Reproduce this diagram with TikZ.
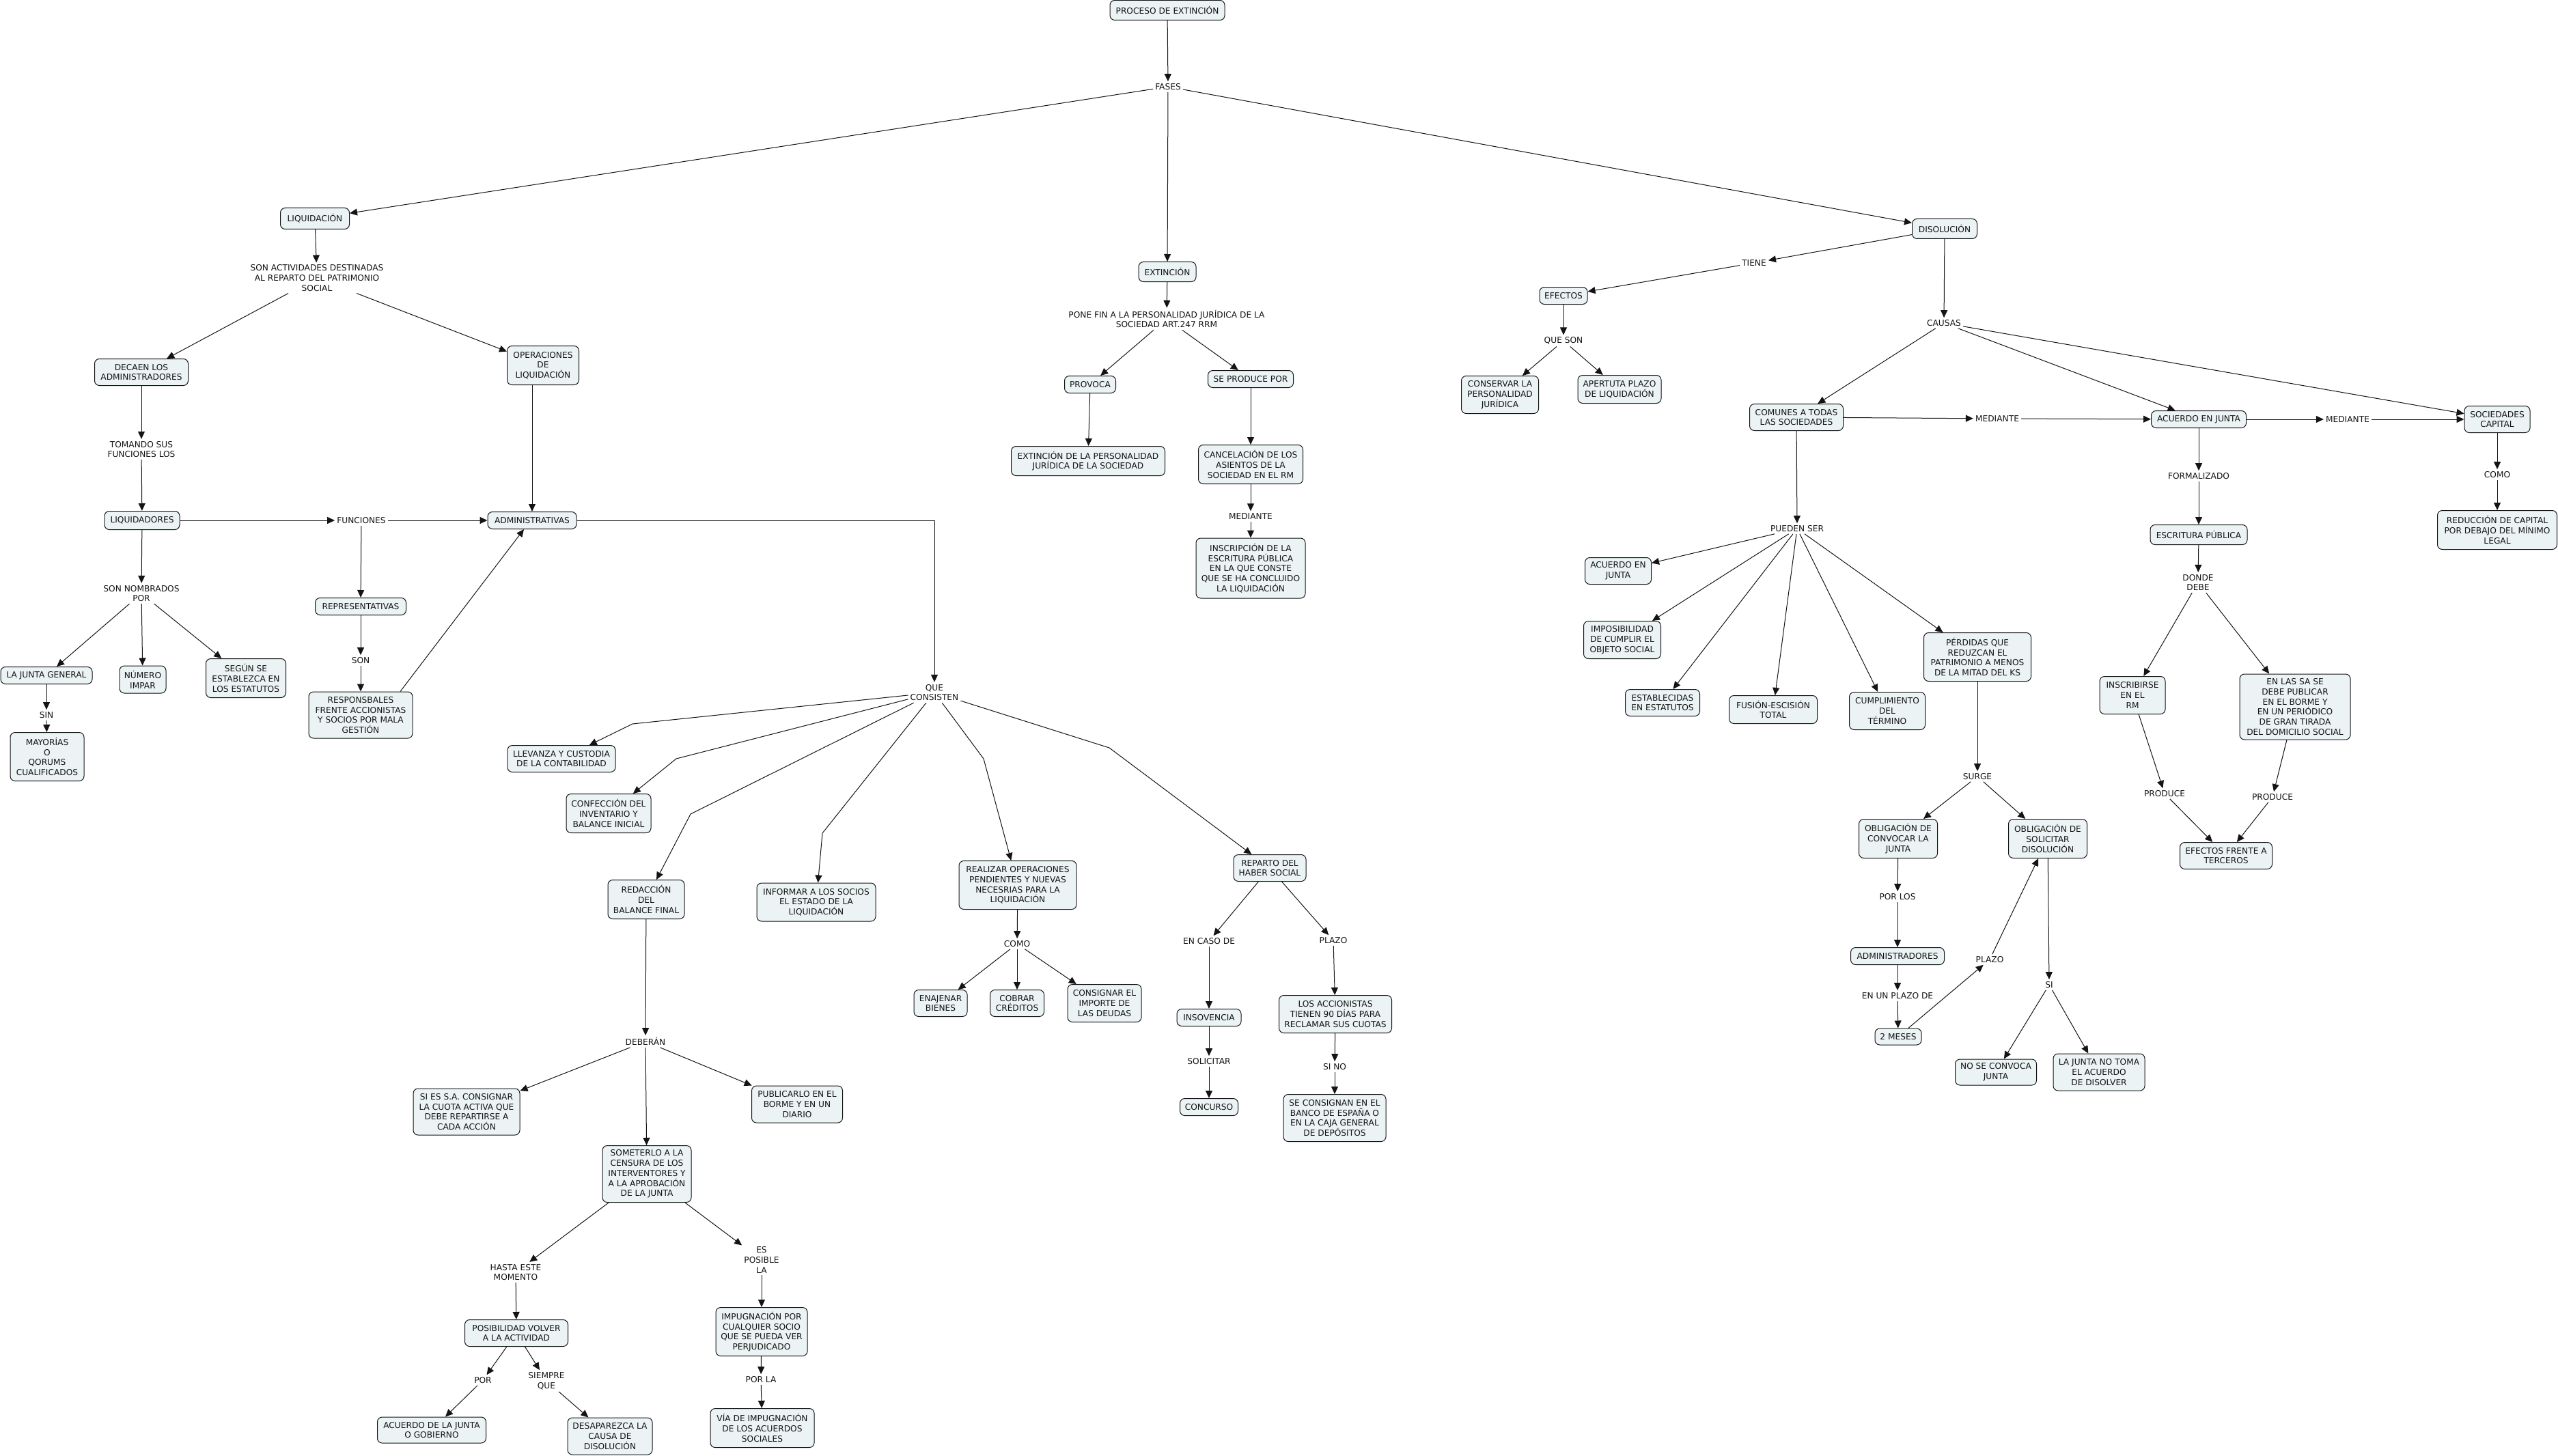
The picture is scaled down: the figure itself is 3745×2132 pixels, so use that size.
\documentclass[tikz,border=0pt]{standalone}
\usepackage{fontspec}
\setmainfont{DejaVu Sans}
\usetikzlibrary{arrows.meta,calc}
\definecolor{boxfill}{RGB}{236,243,245}
\definecolor{ink}{RGB}{20,20,20}
\tikzset{
  every node/.style={font=\fontsize{12.2pt}{14.7pt}\selectfont, align=center, text=ink},
  box/.style={draw=ink, fill=boxfill, rounded corners=7pt, line width=1pt, inner xsep=4pt, inner ysep=2pt},
  sz/.style 2 args={minimum width=#1pt, minimum height=#2pt},
  lnk/.style={inner sep=3pt},
  arr/.style={draw=ink, line width=1pt, -{Triangle[length=11pt,width=10pt]}},
}
\begin{document}
\begin{tikzpicture}[x=1pt,y=-1pt]
\fill[white] (0,0) rectangle (3745,2132);
\useasboundingbox (0,0) rectangle (3745,2132);

% ---------- top ----------
\node[box,sz={168}{29}] (proc) at (1709,15) {PROCESO DE EXTINCIÓN};
\node[lnk] (fases) at (1710,127) {FASES};
\node[box,sz={101}{31}] (liq) at (461,320) {LIQUIDACIÓN};
\node[box,sz={84}{29}] (ext) at (1709,398) {EXTINCIÓN};
\node[box,sz={95}{29}] (dis) at (2847,335) {DISOLUCIÓN};

% ---------- liquidacion ----------
\node[lnk] (sonact) at (464,407) {SON ACTIVIDADES DESTINADAS\\AL REPARTO DEL PATRIMONIO\\SOCIAL};
\node[box,sz={137}{39}] (decaen) at (207,545) {DECAEN LOS\\ADMINISTRADORES};
\node[box,sz={105}{57}] (oper) at (795,535) {OPERACIONES\\DE\\LIQUIDACIÓN};
\node[lnk] (tomando) at (207,658) {TOMANDO SUS\\FUNCIONES LOS};
\node[box,sz={110}{27}] (liqdores) at (208,762) {LIQUIDADORES};
\node[lnk] (funciones) at (529,762) {FUNCIONES};
\node[box,sz={130}{25}] (admin) at (779,762) {ADMINISTRATIVAS};
\node[lnk] (sonnom) at (207,869) {SON NOMBRADOS\\POR};
\node[box,sz={133}{25}] (repres) at (528,888) {REPRESENTATIVAS};
\node[box,sz={134}{25}] (lajg) at (68,989) {LA JUNTA GENERAL};
\node[box,sz={68}{40}] (numero) at (209,995) {NÚMERO\\IMPAR};
\node[box,sz={117}{57}] (segun) at (360,993) {SEGÚN SE\\ESTABLEZCA EN\\LOS ESTATUTOS};
\node[lnk] (son) at (528,967) {SON};
\node[box,sz={152}{68}] (resp) at (528,1047) {RESPONSBALES\\FRENTE ACCIONISTAS\\Y SOCIOS POR MALA\\GESTIÓN};
\node[lnk] (sin) at (68,1047) {SIN};
\node[box,sz={108}{71}] (mayor) at (69,1108) {MAYORÍAS\\O\\QORUMS\\CUALIFICADOS};

\node[lnk] (qc) at (1368,1014) {QUE\\CONSISTEN};
\node[box,sz={158}{39}] (llev) at (822,1111) {LLEVANZA Y CUSTODIA\\DE LA CONTABILIDAD};
\node[box,sz={124}{57}] (conf) at (891,1191) {CONFECCIÓN DEL\\INVENTARIO Y\\BALANCE INICIAL};
\node[box,sz={112}{57}] (redac) at (946,1317) {REDACCIÓN\\DEL\\BALANCE FINAL};
\node[box,sz={174}{56}] (inform) at (1195,1321) {INFORMAR A LOS SOCIOS\\EL ESTADO DE LA\\LIQUIDACIÓN};
\node[box,sz={172}{71}] (realizar) at (1490,1296) {REALIZAR OPERACIONES\\PENDIENTES Y NUEVAS\\NECESRIAS PARA LA\\LIQUIDACIÓN};
\node[box,sz={106}{39}] (reparto) at (1859,1271) {REPARTO DEL\\HABER SOCIAL};
\node[lnk] (comoM) at (1489,1382) {COMO};
\node[box,sz={78}{39}] (enaj) at (1377,1469) {ENAJENAR\\BIENES};
\node[box,sz={79}{39}] (cobrar) at (1489,1469) {COBRAR\\CRÉDITOS};
\node[box,sz={108}{55}] (consig) at (1617,1469) {CONSIGNAR EL\\IMPORTE DE\\LAS DEUDAS};
\node[lnk] (encaso) at (1770,1378) {EN CASO DE};
\node[lnk] (plazoM) at (1952,1377) {PLAZO};
\node[box,sz={94}{25}] (insov) at (1770,1490) {INSOVENCIA};
\node[lnk] (solic) at (1770,1554) {SOLICITAR};
\node[box,sz={85}{25}] (concurso) at (1770,1621) {CONCURSO};
\node[box,sz={165}{55}] (accion) at (1955,1485) {LOS ACCIONISTAS\\TIENEN 90 DÍAS PARA\\RECLAMAR SUS CUOTAS};
\node[lnk] (sino) at (1954,1562) {SI NO};
\node[box,sz={150}{69}] (seconsig) at (1954,1637) {SE CONSIGNAN EN EL\\BANCO DE ESPAÑA O\\EN LA CAJA GENERAL\\DE DEPÓSITOS};

\node[lnk] (deberan) at (945,1525) {DEBERÁN};
\node[box,sz={156}{68}] (sies) at (683,1628) {SI ES S.A. CONSIGNAR\\LA CUOTA ACTIVA QUE\\DEBE REPARTIRSE A\\CADA ACCIÓN};
\node[box,sz={133}{54}] (public) at (1167,1617) {PUBLICARLO EN EL\\BORME Y EN UN\\DIARIO};
\node[box,sz={130}{83}] (somet) at (947,1719) {SOMETERLO A LA\\CENSURA DE LOS\\INTERVENTORES Y\\A LA APROBACIÓN\\DE LA JUNTA};
\node[lnk] (hasta) at (755,1863) {HASTA ESTE\\MOMENTO};
\node[lnk] (espos) at (1115,1845) {ES\\POSIBLE\\LA};
\node[box,sz={151}{39}] (posib) at (756,1952) {POSIBILIDAD VOLVER\\A LA ACTIVIDAD};
\node[box,sz={134}{71}] (impug) at (1115,1950) {IMPUGNACIÓN POR\\CUALQUIER SOCIO\\QUE SE PUEDA VER\\PERJUDICADO};
\node[lnk] (por) at (707,2021) {POR};
\node[lnk] (siempre) at (800,2022) {SIEMPRE\\QUE};
\node[lnk] (porla) at (1114,2020) {POR LA};
\node[box,sz={159}{38}] (acjg) at (632,2094) {ACUERDO DE LA JUNTA\\O GOBIERNO};
\node[box,sz={124}{54}] (desap) at (893,2103) {DESAPAREZCA LA\\CAUSA DE\\DISOLUCIÓN};
\node[box,sz={152}{57}] (via) at (1116,2091) {VÍA DE IMPUGNACIÓN\\DE LOS ACUERDOS\\SOCIALES};

% ---------- extincion ----------
\node[lnk] (ponefin) at (1708,467) {PONE FIN A LA PERSONALIDAD JURÍDICA DE LA\\SOCIEDAD ART.247 RRM};
\node[box,sz={75}{25}] (provoca) at (1596,563) {PROVOCA};
\node[box,sz={125}{25}] (seprod) at (1831,555) {SE PRODUCE POR};
\node[box,sz={225}{43}] (extpers) at (1593,675) {EXTINCIÓN DE LA PERSONALIDAD\\JURÍDICA DE LA SOCIEDAD};
\node[box,sz={153}{57}] (cancel) at (1831,680) {CANCELACIÓN DE LOS\\ASIENTOS DE LA\\SOCIEDAD EN EL RM};
\node[lnk] (medM) at (1831,756) {MEDIANTE};
\node[box,sz={160}{88}] (inscrip) at (1831,832) {INSCRIPCIÓN DE LA\\ESCRITURA PÚBLICA\\EN LA QUE CONSTE\\QUE SE HA CONCLUIDO\\LA LIQUIDACIÓN};

% ---------- disolucion ----------
\node[lnk] (tiene) at (2568,385) {TIENE};
\node[box,sz={70}{25}] (efectos) at (2289,433) {EFECTOS};
\node[lnk] (queson) at (2289,499) {QUE SON};
\node[box,sz={113}{55}] (conserv) at (2196,578) {CONSERVAR LA\\PERSONALIDAD\\JURÍDICA};
\node[box,sz={122}{41}] (apert) at (2371,570) {APERTUTA PLAZO\\DE LIQUIDACIÓN};
\node[lnk] (causas) at (2846,473) {CAUSAS};
\node[box,sz={137}{39}] (comunes) at (2630,611) {COMUNES A TODAS\\LAS SOCIEDADES};
\node[lnk] (med1) at (2924,613) {MEDIANTE};
\node[box,sz={139}{25}] (acJ) at (3219,614) {ACUERDO EN JUNTA};
\node[lnk] (med2) at (3437,614) {MEDIANTE};
\node[box,sz={96}{39}] (socc) at (3656,614) {SOCIEDADES\\CAPITAL};
\node[lnk] (comoR) at (3656,695) {COMO};
\node[box,sz={175}{57}] (reduc) at (3656,776) {REDUCCIÓN DE CAPITAL\\POR DEBAJO DEL MÍNIMO\\LEGAL};
\node[lnk] (formal) at (3219,697) {FORMALIZADO};
\node[box,sz={142}{29}] (escrit) at (3219,783) {ESCRITURA PÚBLICA};
\node[lnk] (donde) at (3218,853) {DONDE\\DEBE};
\node[box,sz={96}{55}] (inscrib) at (3122,1018) {INSCRIBIRSE\\EN EL\\RM};
\node[box,sz={162}{96}] (enlas) at (3360,1035) {EN LAS SA SE\\DEBE PUBLICAR\\EN EL BORME Y\\EN UN PERIÓDICO\\DE GRAN TIRADA\\DEL DOMICILIO SOCIAL};
\node[lnk] (prod1) at (3169,1162) {PRODUCE};
\node[lnk] (prod2) at (3327,1167) {PRODUCE};
\node[box,sz={135}{39}] (efter) at (3259,1253) {EFECTOS FRENTE A\\TERCEROS};

\node[lnk] (pueden) at (2631,774) {PUEDEN SER};
\node[box,sz={97}{39}] (acJL) at (2369,836) {ACUERDO EN\\JUNTA};
\node[box,sz={113}{55}] (imposib) at (2375,937) {IMPOSIBILIDAD\\DE CUMPLIR EL\\OBJETO SOCIAL};
\node[box,sz={109}{39}] (establ) at (2434,1029) {ESTABLECIDAS\\EN ESTATUTOS};
\node[box,sz={129}{41}] (fusion) at (2596,1039) {FUSIÓN-ESCISIÓN\\TOTAL};
\node[box,sz={111}{55}] (cumpl) at (2763,1041) {CUMPLIMIENTO\\DEL\\TÉRMINO};
\node[box,sz={157}{71}] (perd) at (2895,962) {PÉRDIDAS QUE\\REDUZCAN EL\\PATRIMONIO A MENOS\\DE LA MITAD DEL KS};
\node[lnk] (surge) at (2895,1137) {SURGE};
\node[box,sz={115}{57}] (oblconv) at (2779,1228) {OBLIGACIÓN DE\\CONVOCAR LA\\JUNTA};
\node[box,sz={115}{57}] (oblsol) at (2998,1228) {OBLIGACIÓN DE\\SOLICITAR\\DISOLUCIÓN};
\node[lnk] (porlos) at (2778,1313) {POR LOS};
\node[box,sz={137}{25}] (admins) at (2778,1400) {ADMINISTRADORES};
\node[lnk] (enun) at (2778,1458) {EN UN PLAZO DE};
\node[box,sz={68}{24}] (meses) at (2779,1518) {2 MESES};
\node[lnk] (plazoR) at (2913,1405) {PLAZO};
\node[lnk] (si) at (3000,1442) {SI};
\node[box,sz={119}{38}] (noconv) at (2922,1570) {NO SE CONVOCA\\JUNTA};
\node[box,sz={134}{54}] (lajnt) at (3073,1570) {LA JUNTA NO TOMA\\EL ACUERDO\\DE DISOLVER};

% bend points
\coordinate (b1) at (926,1060);
\coordinate (b2) at (990,1111);
\coordinate (b3) at (1011,1192);
\coordinate (b4) at (1204,1220);
\coordinate (b5) at (1440,1111);
\coordinate (b6) at (1624,1095);

% ---------- connectors ----------
\draw[arr] (proc) -- (fases);
\draw[arr] (fases) -- (liq);
\draw[arr] (fases) -- (ext);
\draw[arr] (fases) -- (dis);

\draw[arr] (liq) -- (sonact);
\draw[arr] (sonact) -- (decaen);
\draw[arr] (sonact) -- (oper);
\draw[arr] (decaen) -- (tomando);
\draw[arr] (tomando) -- (liqdores);
\draw[arr] (oper.south -| admin.north) -- (admin.north);
\draw[arr] (liqdores) -- (funciones);
\draw[arr] (funciones) -- (admin);
\draw[arr] (liqdores) -- (sonnom);
\draw[arr] (funciones) -- (repres);
\draw[arr] (repres) -- (son);
\draw[arr] (son) -- (resp);
\draw[arr] ([xshift=58pt]resp.north) -- ([xshift=-12pt]admin.south);
\draw[arr] (sonnom) -- (lajg);
\draw[arr] (sonnom) -- (numero);
\draw[arr] (sonnom) -- (segun);
\draw[arr] (lajg) -- (sin);
\draw[arr] (sin) -- (mayor);

\draw[arr] (admin.east) -| (qc.north);
\draw[arr] (qc) -- (b1) -- (llev);
\draw[arr] (qc) -- (b2) -- (conf);
\draw[arr] (qc) -- (b3) -- (redac);
\draw[arr] (qc) -- (b4) -- (inform);
\draw[arr] (qc) -- (b5) -- (realizar);
\draw[arr] (qc) -- (b6) -- (reparto);

\draw[arr] (realizar) -- (comoM);
\draw[arr] (comoM) -- (enaj);
\draw[arr] (comoM) -- (cobrar);
\draw[arr] (comoM) -- (consig);
\draw[arr] (reparto) -- (encaso);
\draw[arr] (reparto) -- (plazoM);
\draw[arr] (encaso) -- (insov);
\draw[arr] (insov) -- (solic);
\draw[arr] (solic) -- (concurso);
\draw[arr] (plazoM) -- (accion);
\draw[arr] (accion) -- (sino);
\draw[arr] (sino) -- (seconsig);

\draw[arr] (redac) -- (deberan);
\draw[arr] (deberan) -- (sies);
\draw[arr] (deberan) -- (somet);
\draw[arr] (deberan) -- (public);
\draw[arr] (somet) -- (hasta);
\draw[arr] (somet) -- (espos);
\draw[arr] (hasta) -- (posib);
\draw[arr] (posib) -- (por);
\draw[arr] (posib) -- (siempre);
\draw[arr] (por) -- (acjg);
\draw[arr] (siempre) -- (desap);
\draw[arr] (espos) -- (impug);
\draw[arr] (impug) -- (porla);
\draw[arr] (porla) -- (via);

\draw[arr] (ext) -- (ponefin);
\draw[arr] (ponefin) -- (provoca);
\draw[arr] (ponefin) -- (seprod);
\draw[arr] (provoca) -- (extpers);
\draw[arr] (seprod) -- (cancel);
\draw[arr] (cancel) -- (medM);
\draw[arr] (medM) -- (inscrip);

\draw[arr] (dis) -- (tiene);
\draw[arr] (tiene) -- (efectos);
\draw[arr] (efectos) -- (queson);
\draw[arr] (queson) -- (conserv);
\draw[arr] (queson) -- (apert);
\draw[arr] (dis) -- (causas);
\draw[arr] (causas) -- (comunes);
\draw[arr] (causas) -- (acJ);
\draw[arr] (causas) -- (socc);
\draw[arr] (comunes) -- (med1);
\draw[arr] (med1) -- (acJ);
\draw[arr] (acJ) -- (med2);
\draw[arr] (med2) -- (socc);
\draw[arr] (socc) -- (comoR);
\draw[arr] (comoR) -- (reduc);
\draw[arr] (acJ) -- (formal);
\draw[arr] (formal) -- (escrit);
\draw[arr] (escrit) -- (donde);
\draw[arr] (donde) -- (inscrib);
\draw[arr] (donde) -- (enlas);
\draw[arr] (inscrib) -- (prod1);
\draw[arr] (prod1) -- (efter);
\draw[arr] (enlas) -- (prod2);
\draw[arr] (prod2) -- (efter);

\draw[arr] (comunes) -- (pueden);
\draw[arr] (pueden) -- (acJL);
\draw[arr] (pueden) -- (imposib);
\draw[arr] (pueden) -- (establ);
\draw[arr] (pueden) -- (fusion);
\draw[arr] (pueden) -- (cumpl);
\draw[arr] (pueden) -- (perd);
\draw[arr] (perd) -- (surge);
\draw[arr] (surge) -- (oblconv);
\draw[arr] (surge) -- (oblsol);
\draw[arr] (oblconv) -- (porlos);
\draw[arr] (porlos) -- (admins);
\draw[arr] (admins) -- (enun);
\draw[arr] (enun) -- (meses);
\draw[arr] (meses) -- (plazoR);
\draw[arr] (plazoR) -- (oblsol);
\draw[arr] (oblsol) -- (si);
\draw[arr] (si) -- (noconv);
\draw[arr] (si) -- (lajnt);
\end{tikzpicture}
\end{document}
